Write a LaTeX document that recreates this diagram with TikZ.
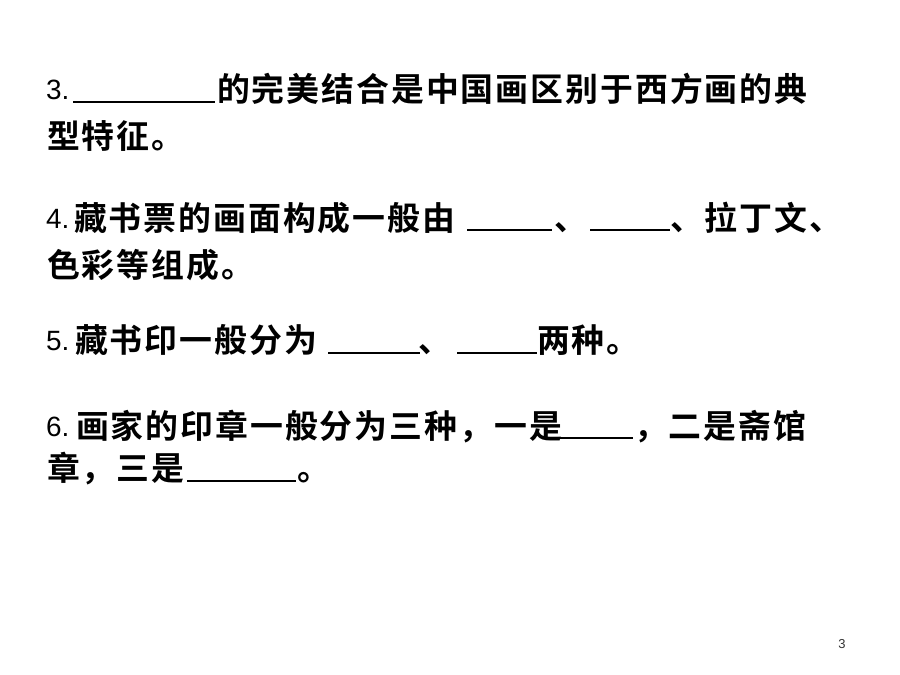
\documentclass[tikz,border=0pt]{standalone}
\usepackage{fontspec}
\setmainfont{Liberation Sans}
\newfontfamily\cjkb[LetterSpace=6]{Noto Sans CJK SC Bold}
\newfontfamily\numf{Liberation Sans}
\begin{document}
\begin{tikzpicture}[x=1bp,y=-1bp,
  zh/.style={anchor=base west, inner sep=0pt, outer sep=0pt, font=\cjkb\fontsize{33}{33}\selectfont},
  num/.style={anchor=base west, inner sep=0pt, outer sep=0pt, font=\numf\fontsize{28}{28}\selectfont},
  blank/.style={line width=1.5bp, black},
  pageno/.style={anchor=base, inner sep=0pt, font=\numf\fontsize{13}{13}\selectfont, black!80}]
\useasboundingbox[fill=white] (0,0) rectangle (900,675);
% question 3
\node[num] (n3) at (46,100) {3.};
\coordinate (u1a) at (73,102); \coordinate (u1b) at (215,102);
\draw[blank] (u1a) -- (u1b);
\node[zh] (t3a) at (217,102) {的完美结合是中国画区别于西方画的典};
\node[zh] (t3b) at (47,149) {型特征。};
% question 4
\node[num] (n4) at (46,228) {4.};
\node[zh] (t4a) at (74,230) {藏书票的画面构成一般由};
\coordinate (u4a) at (467,230); \coordinate (u4b) at (552,230);
\draw[blank] (u4a) -- (u4b);
\node[zh] (t4b) at (554,230) {、};
\coordinate (u4c) at (590,230); \coordinate (u4d) at (670,230);
\draw[blank] (u4c) -- (u4d);
\node[zh] (t4c) at (670,230) {、拉丁文、};
\node[zh] (t4d) at (47,277) {色彩等组成。};
% question 5
\node[num] (n5) at (46,350) {5.};
\node[zh] (t5a) at (75,352) {藏书印一般分为};
\coordinate (u5a) at (328,353); \coordinate (u5b) at (420,353);
\draw[blank] (u5a) -- (u5b);
\node[zh] (t5b) at (418,352) {、};
\coordinate (u5c) at (457,353); \coordinate (u5d) at (537,353);
\draw[blank] (u5c) -- (u5d);
\node[zh] (t5c) at (537,352) {两种。};
% question 6
\node[num] (n6) at (46,436) {6.};
\node[zh] (t6a) at (76,438) {画家的印章一般分为三种，一是};
\coordinate (u6a) at (554,438); \coordinate (u6b) at (633,438);
\draw[blank] (u6a) -- (u6b);
\node[zh] (t6b) at (634,438) {，二是斋馆};
\node[zh] (t6c) at (47,480) {章，三是};
\coordinate (u6c) at (187,481); \coordinate (u6d) at (296,481);
\draw[blank] (u6c) -- (u6d);
\node[zh] (t6d) at (297,480) {。};
% page number
\node[pageno] (pg) at (842,648) {3};
\end{tikzpicture}
\end{document}
